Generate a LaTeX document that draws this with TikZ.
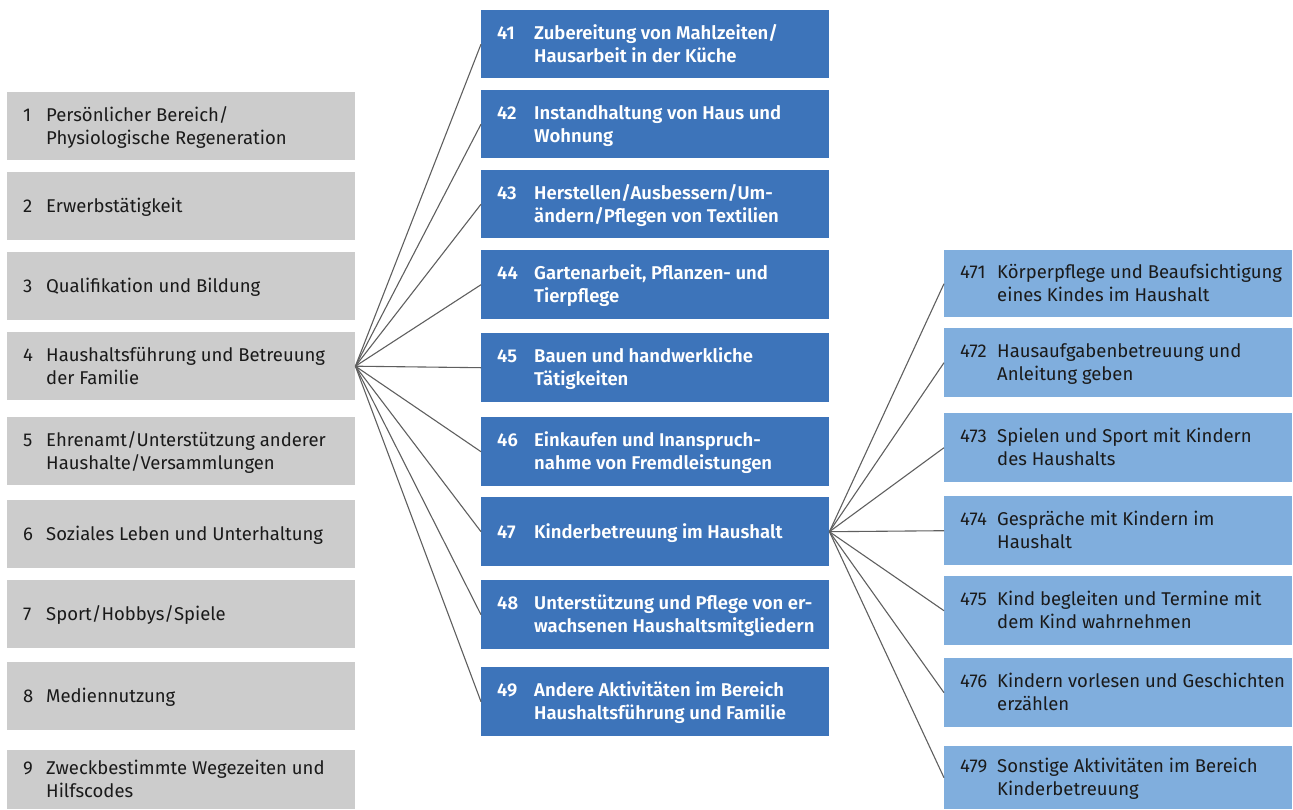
\documentclass[tikz,border=0pt]{standalone}
\usepackage{fontspec}
\setmainfont{Fira Sans}[BoldFont={Fira Sans SemiBold}]
\usepackage{array}
\definecolor{grayfill}{HTML}{CCCCCC}
\definecolor{darkblue}{HTML}{3D74BA}
\definecolor{lightblue}{HTML}{80AEDD}
\definecolor{linegray}{HTML}{5F5F5F}
\definecolor{txtdark}{HTML}{1A1A1A}
\newcommand\mytab[2]{\begin{tabular}{@{}p{#1}@{}l@{}}#2\end{tabular}}
\begin{document}
\begin{tikzpicture}[x=1pt,y=-1pt,
  every node/.style={font=\fontsize{18.5}{23}\selectfont},
  gbox/.style={fill=grayfill, draw=none, inner sep=0, anchor=north west, minimum width=348pt},
  dbox/.style={fill=darkblue, draw=none, inner sep=0, anchor=north west, minimum width=348pt},
  lbox/.style={fill=lightblue, draw=none, inner sep=0, anchor=north west, minimum width=348pt},
  gtxt/.style={anchor=west, inner sep=0, text=txtdark},
  dtxt/.style={anchor=west, inner sep=0, text=white, font=\fontsize{18.5}{23}\selectfont\bfseries},
  ltxt/.style={anchor=west, inner sep=0, text=txtdark},
  conn/.style={draw=linegray, line width=1.1pt}
]
\useasboundingbox (0,0) rectangle (1293,809);
% left column
\node[gbox, minimum height=68pt] (g1) at (7,92) {};
\node[gbox, minimum height=68pt] (g2) at (7,172) {};
\node[gbox, minimum height=68pt] (g3) at (7,252) {};
\node[gbox, minimum height=68pt] (g4) at (7,332) {};
\node[gbox, minimum height=68pt] (g5) at (7,417) {};
\node[gbox, minimum height=68pt] (g6) at (7,500) {};
\node[gbox, minimum height=68pt] (g7) at (7,580) {};
\node[gbox, minimum height=68pt] (g8) at (7,662) {};
\node[gbox, minimum height=59pt] (g9) at (7,750) {};
\node[gtxt] (tg1) at ([xshift=16pt,yshift=-2pt]g1.west) {\mytab{23pt}{1 & Persönlicher Bereich/\\ & Physiologische Regeneration}};
\node[gtxt] (tg2) at ([xshift=16pt,yshift=-2pt]g2.west) {\mytab{23pt}{2 & Erwerbstätigkeit}};
\node[gtxt] (tg3) at ([xshift=16pt,yshift=-2pt]g3.west) {\mytab{23pt}{3 & Qualifikation und Bildung}};
\node[gtxt] (tg4) at ([xshift=16pt,yshift=-2pt]g4.west) {\mytab{23pt}{4 & Haushaltsführung und Betreuung\\ & der Familie}};
\node[gtxt] (tg5) at ([xshift=16pt,yshift=-2pt]g5.west) {\mytab{23pt}{5 & Ehrenamt/Unterstützung anderer\\ & Haushalte/Versammlungen}};
\node[gtxt] (tg6) at ([xshift=16pt,yshift=-2pt]g6.west) {\mytab{23pt}{6 & Soziales Leben und Unterhaltung}};
\node[gtxt] (tg7) at ([xshift=16pt,yshift=-2pt]g7.west) {\mytab{23pt}{7 & Sport/Hobbys/Spiele}};
\node[gtxt] (tg8) at ([xshift=16pt,yshift=-2pt]g8.west) {\mytab{23pt}{8 & Mediennutzung}};
\node[gtxt] (tg9) at ([xshift=16pt,yshift=-2pt]g9.west) {\mytab{23pt}{9 & Zweckbestimmte Wegezeiten und\\ & Hilfscodes}};
% middle column
\node[dbox, minimum height=68pt] (m1) at (481,10) {};
\node[dbox, minimum height=68pt] (m2) at (481,90) {};
\node[dbox, minimum height=68pt] (m3) at (481,170) {};
\node[dbox, minimum height=69pt] (m4) at (481,250) {};
\node[dbox, minimum height=69pt] (m5) at (481,333) {};
\node[dbox, minimum height=69pt] (m6) at (481,417) {};
\node[dbox, minimum height=69pt] (m7) at (481,497) {};
\node[dbox, minimum height=69pt] (m8) at (481,580) {};
\node[dbox, minimum height=69pt] (m9) at (481,667) {};
\node[dtxt] (tm1) at ([xshift=16pt,yshift=-2pt]m1.west) {\mytab{37pt}{41 & Zubereitung von Mahlzeiten/\\ & Hausarbeit in der Küche}};
\node[dtxt] (tm2) at ([xshift=16pt,yshift=-2pt]m2.west) {\mytab{37pt}{42 & Instandhaltung von Haus und\\ & Wohnung}};
\node[dtxt] (tm3) at ([xshift=16pt,yshift=-2pt]m3.west) {\mytab{37pt}{43 & Herstellen/Ausbessern/Um-\\ & ändern/Pflegen von Textilien}};
\node[dtxt] (tm4) at ([xshift=16pt,yshift=-2pt]m4.west) {\mytab{37pt}{44 & Gartenarbeit, Pflanzen- und\\ & Tierpflege}};
\node[dtxt] (tm5) at ([xshift=16pt,yshift=-2pt]m5.west) {\mytab{37pt}{45 & Bauen und handwerkliche\\ & Tätigkeiten}};
\node[dtxt] (tm6) at ([xshift=16pt,yshift=-2pt]m6.west) {\mytab{37pt}{46 & Einkaufen und Inanspruch-\\ & nahme von Fremdleistungen}};
\node[dtxt] (tm7) at ([xshift=16pt,yshift=-2pt]m7.west) {\mytab{37pt}{47 & Kinderbetreuung im Haushalt}};
\node[dtxt] (tm8) at ([xshift=16pt,yshift=-2pt]m8.west) {\mytab{37pt}{48 & Unterstützung und Pflege von er-\\ & wachsenen Haushaltsmitgliedern}};
\node[dtxt] (tm9) at ([xshift=16pt,yshift=-2pt]m9.west) {\mytab{37pt}{49 & Andere Aktivitäten im Bereich\\ & Haushaltsführung und Familie}};
% right column
\node[lbox, minimum height=67pt] (r1) at (944,250) {};
\node[lbox, minimum height=69pt] (r2) at (944,328) {};
\node[lbox, minimum height=69pt] (r3) at (944,413) {};
\node[lbox, minimum height=69pt] (r4) at (944,496) {};
\node[lbox, minimum height=69pt] (r5) at (944,576) {};
\node[lbox, minimum height=69pt] (r6) at (944,658) {};
\node[lbox, minimum height=63pt] (r7) at (944,746) {};
\node[ltxt] (tr1) at ([xshift=16pt,yshift=-2pt]r1.west) {\mytab{37pt}{471 & Körperpflege und Beaufsichtigung\\ & eines Kindes im Haushalt}};
\node[ltxt] (tr2) at ([xshift=16pt,yshift=-2pt]r2.west) {\mytab{37pt}{472 & Hausaufgabenbetreuung und\\ & Anleitung geben}};
\node[ltxt] (tr3) at ([xshift=16pt,yshift=-2pt]r3.west) {\mytab{37pt}{473 & Spielen und Sport mit Kindern\\ & des Haushalts}};
\node[ltxt] (tr4) at ([xshift=16pt,yshift=-2pt]r4.west) {\mytab{37pt}{474 & Gespräche mit Kindern im\\ & Haushalt}};
\node[ltxt] (tr5) at ([xshift=16pt,yshift=-2pt]r5.west) {\mytab{37pt}{475 & Kind begleiten und Termine mit\\ & dem Kind wahrnehmen}};
\node[ltxt] (tr6) at ([xshift=16pt,yshift=-2pt]r6.west) {\mytab{37pt}{476 & Kindern vorlesen und Geschichten\\ & erzählen}};
\node[ltxt] (tr7) at ([xshift=16pt,yshift=-2pt]r7.west) {\mytab{37pt}{479 & Sonstige Aktivitäten im Bereich\\ & Kinderbetreuung}};
% connectors
\foreach \i in {1,...,9} \draw[conn] (g4.east) -- (m\i.west);
\foreach \i in {1,...,7} \draw[conn] (m7.east) -- (r\i.west);
\end{tikzpicture}
\end{document}
